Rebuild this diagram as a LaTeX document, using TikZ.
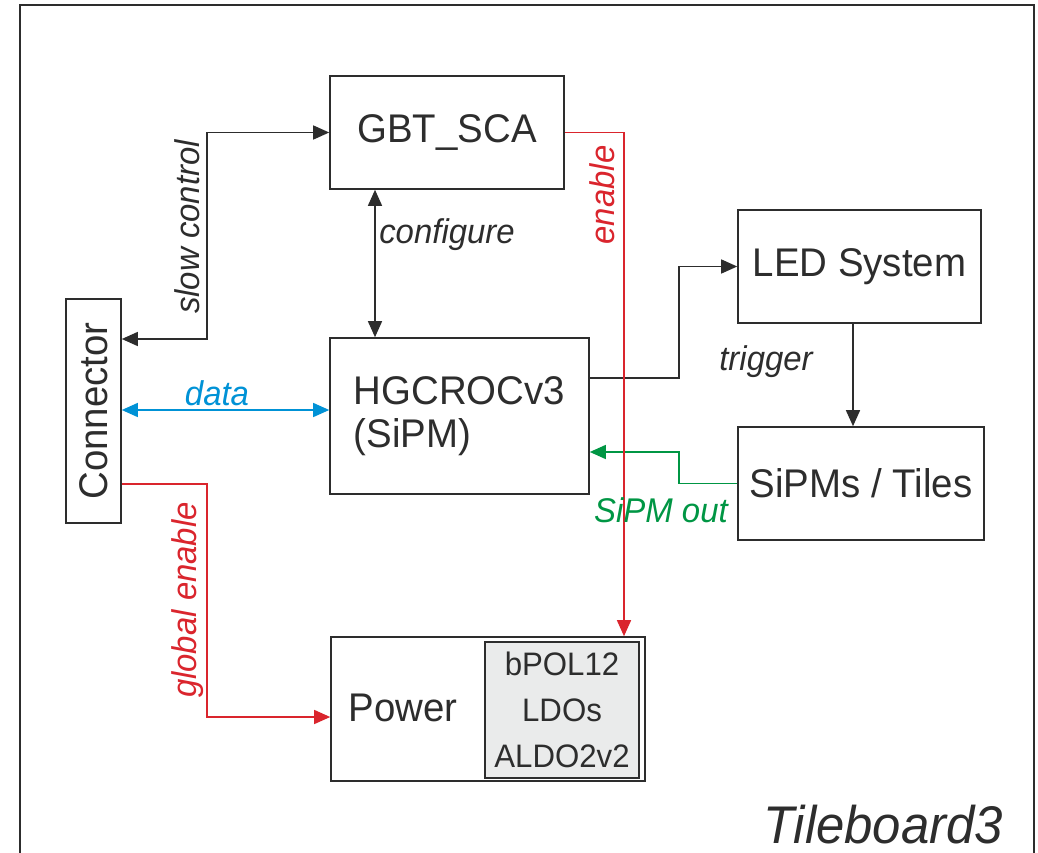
\documentclass[tikz,border=0pt]{standalone}
\usepackage{fontspec}
\setmainfont[FakeStretch=0.96]{Liberation Sans}
\usetikzlibrary{arrows.meta}
\definecolor{ered}{RGB}{218,37,45}
\definecolor{eblue}{RGB}{0,146,214}
\definecolor{egreen}{RGB}{0,150,68}
\definecolor{eline}{RGB}{45,45,45}
\definecolor{egray}{RGB}{234,235,235}
\begin{document}
\begin{tikzpicture}[x=1pt,y=-1pt,
  box/.style={draw=eline,line width=1.6pt,inner sep=0pt,text=eline,
    font=\fontsize{40}{43}\selectfont,align=left},
  lbl/.style={inner sep=0pt,font=\fontsize{34.3}{36}\selectfont\itshape,text=eline},
  wire/.style={line width=1.4pt,draw=eline},
  tip/.style={-{Triangle[length=16pt,width=14pt]}},
  dtip/.style={{Triangle[length=16pt,width=14pt]}-{Triangle[length=16pt,width=14pt]}}
]
\useasboundingbox (0,0) rectangle (1038,853);
\fill[white] (0,0) rectangle (1038,853);
\draw[eline,line width=1.8pt] (20,870) -- (20,5) -- (1034,5) -- (1034,870);

% boxes
\node[box,minimum width=234pt,minimum height=113pt] (gbt) at (447,132.5) {GBT\_SCA};
\node[box,minimum width=55pt,minimum height=224pt] (conn) at (93.5,411) {};
\node[rotate=90,inner sep=0pt,text=eline,font=\fontsize{40}{43}\selectfont] (conntxt) at (conn.center) {Connector};
\node[box,minimum width=259pt,minimum height=156pt] (hg) at (459.5,416) {HGCROCv3\\(SiPM)};
\node[box,minimum width=243pt,minimum height=113pt] (led) at (859.5,266.5) {LED System};
\node[box,minimum width=246pt,minimum height=113pt] (sipm) at (861,483.5) {SiPMs / Tiles};
\node[box,minimum width=314pt,minimum height=144pt] (pow) at (488,709) {};
\node[inner sep=0pt,text=eline,font=\fontsize{40}{43}\selectfont] (powtxt) at (403,708) {Power};
\node[draw=eline,line width=1.6pt,fill=egray,minimum width=154pt,minimum height=136pt,
  inner sep=0pt,text=eline,align=center,font=\fontsize{32.5}{46}\selectfont] (pgray) at (562,710)
  {bPOL12\\LDOs\\ALDO2v2};

% connectors
\draw[wire,dtip] (conn.east |- 0,339) -- (207,339) |- (gbt.west);
\draw[wire,dtip] (gbt.south -| 375,0) -- (hg.north -| 375,0);
\draw[wire,draw=eblue,dtip] (conn.east |- 0,410) -- (hg.west |- 0,410);
\draw[wire,tip] (hg.east |- 0,378) -- (679,378) |- (led.west);
\draw[wire,tip] (led.south -| 853,0) -- (sipm.north -| 853,0);
\draw[wire,draw=egreen,tip] (sipm.west) -- (679,483.5) |- (hg.east |- 0,452);
\draw[wire,draw=ered,tip] (conn.east |- 0,484) -- (207,484) |- (pow.west |- 0,717);
\draw[wire,draw=ered,tip] (gbt.east) -- (624,132.5) -- (pow.north -| 624,0);

% labels
\node[lbl,rotate=90] (lsc) at (187,227) {slow control};
\node[lbl] (lcfg) at (447,235) {configure};
\node[lbl,text=eblue] (ldata) at (217,393) {data};
\node[lbl,text=ered,rotate=90] (len) at (602,195) {enable};
\node[lbl] (ltrig) at (766,362) {trigger};
\node[lbl,text=egreen] (lsipm) at (661,510) {SiPM out};
\node[lbl,text=ered,rotate=90] (lgen) at (188,600) {global enable};
\node[inner sep=0pt,text=eline,font=\fontsize{53}{56}\selectfont\itshape] (title) at (883,825) {Tileboard3};
\end{tikzpicture}
\end{document}
